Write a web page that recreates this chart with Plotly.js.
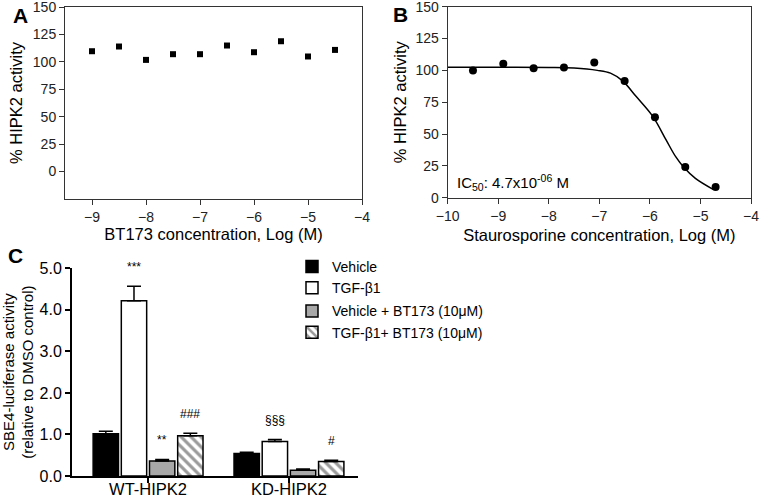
<!DOCTYPE html>
<html><head><meta charset="utf-8">
<script src="https://cdn.plot.ly/plotly-3.0.1.min.js"></script>
<style>html,body{margin:0;padding:0;background:#fff}#chart{width:762px;height:498px}</style>
</head><body><div id="chart"></div>
<script>
// Panel A: BT173 screen
const aLogConc = [-9, -8.5, -8, -7.5, -7, -6.5, -6, -5.5, -5, -4.5];
const aActivity = [109.7, 114, 101.8, 107, 107, 114.9, 108.8, 118.8, 104.9, 110.9];

// Panel B: Staurosporine dose-response
const bLogConc = [-9.5, -8.9, -8.3, -7.7, -7.1, -6.5, -5.9, -5.3, -4.7];
const bActivity = [100, 105.3, 101.7, 102.2, 106.1, 91.7, 63.2, 24.1, 8.4];
// fitted curve
const bFitX = [-10, -9, -8, -7.5, -7.04, -6.78, -6.54, -6.27, -5.94, -5.68, -5.49, -5.33, -5.10, -4.75];
const bFitY = [102.5, 102.5, 102.3, 101.8, 100.0, 97.8, 91.7, 79.4, 63.7, 45.4, 32.2, 23.9, 15.2, 6.6];

// Panel C: SBE4 luciferase
const cGroups = ['WT-HIPK2', 'KD-HIPK2'];
const cSeries = ['Vehicle', 'TGF-β1', 'Vehicle + BT173 (10μM)', 'TGF-β1+ BT173 (10μM)'];
const cValues = [[1.02, 0.54], [4.22, 0.83], [0.36, 0.14], [0.97, 0.35]];
const cErrors = [[0.06, 0.03], [0.35, 0.05], [0.04, 0.03], [0.06, 0.03]];
const cSig = [['', ''], ['***', '§§§'], ['**', ''], ['###', '#']];

const font = 'Liberation Sans, Arial, sans-serif';
const traces = [];
traces.push({x: aLogConc, y: aActivity, xaxis: 'x', yaxis: 'y', mode: 'markers', type: 'scatter',
  marker: {symbol: 'square', size: 6, color: '#000'}, showlegend: false});
traces.push({x: bFitX, y: bFitY, xaxis: 'x2', yaxis: 'y2', mode: 'lines', type: 'scatter',
  line: {shape: 'spline', color: '#000', width: 1.5}, showlegend: false});
traces.push({x: bLogConc, y: bActivity, xaxis: 'x2', yaxis: 'y2', mode: 'markers', type: 'scatter',
  marker: {symbol: 'circle', size: 8, color: '#000'}, showlegend: false});

const fills = ['#000000', '#ffffff', '#a8a8a8', '#ffffff'];
cSeries.forEach((name, i) => {
  const m = {color: fills[i], line: {color: '#000', width: 1.5}};
  if (i === 3) m.pattern = {shape: '\\', fgcolor: '#9a9a9a', bgcolor: '#ffffff', size: 7, solidity: 0.45};
  traces.push({type: 'bar', name: name, x: cGroups, y: cValues[i], xaxis: 'x3', yaxis: 'y3',
    marker: m, legendgroup: i < 2 ? 'g1' : 'g2',
    error_y: {type: 'data', symmetric: false, array: cErrors[i], arrayminus: cGroups.map(() => 0),
      color: '#000', thickness: 1.5, width: 7}});
});

const annotations = [
  {text: '<b>A</b>', x: 20, y: 15},
  {text: '<b>B</b>', x: 400, y: 14},
  {text: '<b>C</b>', x: 15, y: 255}
].map(a => ({text: a.text, xref: 'paper', yref: 'paper', x: a.x / 762, y: 1 - a.y / 498,
  xanchor: 'center', yanchor: 'middle', showarrow: false, font: {family: font, size: 21, color: '#000'}}));

annotations.push({text: 'IC<sub>50</sub>: 4.7x10<sup>-06</sup> M', xref: 'x2', yref: 'y2', x: -9.85, y: 12,
  xanchor: 'left', yanchor: 'middle', showarrow: false, font: {family: font, size: 15, color: '#000'}});

cSig.forEach((row, i) => row.forEach((t, g) => {
  if (!t) return;
  annotations.push({text: t, xref: 'x3', yref: 'y3', x: g - 0.3 + 0.2 * i, y: cValues[i][g] + cErrors[i][g],
    yshift: 10, xanchor: 'center', yanchor: 'bottom', showarrow: false,
    font: {family: font, size: 12, color: '#000'}});
}));

const boxAxis = {showline: true, linecolor: '#333', linewidth: 1, mirror: true, ticks: 'outside',
  ticklen: 5, tickcolor: '#333', showgrid: false, zeroline: false, ticklabeloverflow: 'allow',
  tickfont: {family: font, size: 14, color: '#222'}};

const layout = {
  width: 762, height: 498, margin: {l: 0, r: 0, t: 0, b: 0},
  paper_bgcolor: '#fff', plot_bgcolor: '#fff', font: {family: font, color: '#000'},
  barmode: 'group', bargap: 0.2, bargroupgap: 0.1,
  xaxis: Object.assign({}, boxAxis, {domain: [65 / 762, 362 / 762], range: [-9.5, -4], tickvals: [-9, -8, -7, -6, -5, -4],
    title: {text: 'BT173 concentration, Log (M)', font: {family: font, size: 16.5}, standoff: 2}}),
  yaxis: Object.assign({}, boxAxis, {domain: [1 - 199 / 498, 1 - 7 / 498], range: [-25, 150.01], tickvals: [0, 25, 50, 75, 100, 125, 150],
    title: {text: '% HIPK2 activity', font: {family: font, size: 16.5}, standoff: 6}}),
  xaxis2: Object.assign({}, boxAxis, {anchor: 'y2', domain: [447.7 / 762, 751 / 762], range: [-10, -4], tickvals: [-10, -9, -8, -7, -6, -5, -4],
    title: {text: 'Staurosporine concentration, Log (M)', font: {family: font, size: 16.5}, standoff: 6}}),
  yaxis2: Object.assign({}, boxAxis, {anchor: 'x2', domain: [1 - 197.7 / 498, 1 - 6.7 / 498], range: [0, 150.01], tickvals: [0, 25, 50, 75, 100, 125, 150],
    title: {text: '% HIPK2 activity', font: {family: font, size: 16.5}, standoff: 4}}),
  xaxis3: {anchor: 'y3', domain: [72 / 762, 358 / 762], type: 'category', range: [-0.54, 1.49],
    showline: true, linecolor: '#000', linewidth: 2, ticks: 'outside', ticklen: 5, tickwidth: 2, tickcolor: '#000',
    ticklabelstandoff: -8, ticklabeloverflow: 'allow',
    showgrid: false, zeroline: false, tickfont: {family: font, size: 16.5, color: '#000'}},
  yaxis3: {anchor: 'x3', domain: [1 - 476 / 498, 1 - 268.3 / 498], range: [0, 5.001], dtick: 1, tickformat: '.1f',
    showline: true, linecolor: '#000', linewidth: 2, ticks: 'outside', ticklen: 5, tickwidth: 2, tickcolor: '#000',
    ticklabeloverflow: 'allow',
    showgrid: false, zeroline: false, tickfont: {family: font, size: 16, color: '#000'},
    title: {text: 'SBE4-luciferase activity<br>(relative to DMSO control)', font: {family: font, size: 15}, standoff: 2}},
  legend: {x: 292 / 762, y: 1 - 251 / 498, xanchor: 'left', yanchor: 'top', traceorder: 'grouped', tracegroupgap: 2,
    font: {family: font, size: 14, color: '#000'}, bgcolor: 'rgba(0,0,0,0)', itemwidth: 30},
  annotations: annotations
};
Plotly.newPlot('chart', traces, layout, {staticPlot: true});
</script></body></html>
